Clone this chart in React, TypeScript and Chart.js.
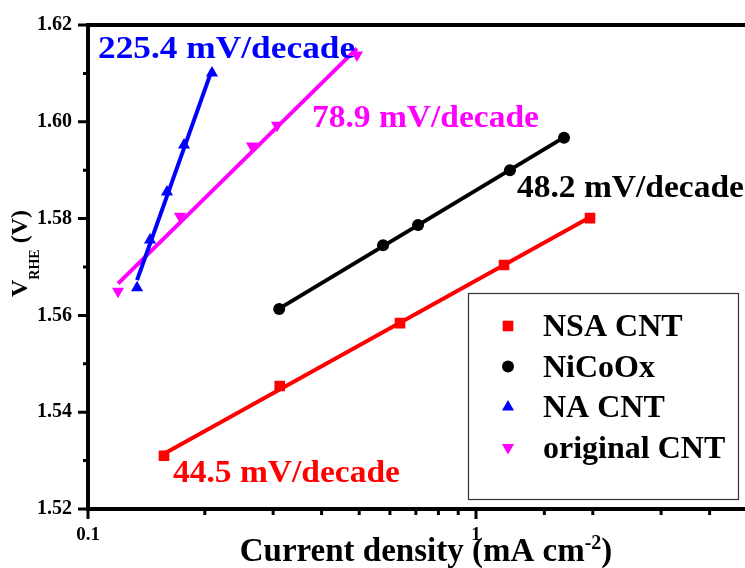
import React, { useEffect, useRef } from 'react';
import { Chart, registerables } from 'chart.js';

Chart.register(...registerables);

const FONT = '"Liberation Serif", "Times New Roman", serif';

// Series (current density in mA cm^-2, potential in V vs RHE)
const nsaX = [0.157, 0.312, 0.637, 1.181, 1.967];
const nsaY = [1.531, 1.5454, 1.5584, 1.5704, 1.5801];
const nicoX = [0.311, 0.576, 0.709, 1.223, 1.686];
const nicoY = [1.5613, 1.5745, 1.5787, 1.59, 1.5967];
const naX = [0.1338, 0.1445, 0.1598, 0.1768, 0.2087];
const naY = [1.5657, 1.5756, 1.5855, 1.5952, 1.6101];
const origX = [0.1195, 0.1726, 0.2647, 0.307, 0.4935];
const origY = [1.565, 1.5805, 1.595, 1.5993, 1.6138];

const seriesNames = ['NSA CNT', 'NiCoOx', 'NA CNT', 'original CNT'];
const seriesColors = ['#FF0000', '#000000', '#0000FF', '#FF00FF'];
const seriesStyles = ['rect', 'circle', 'triangle', 'triangle'];
const seriesRotation = [0, 0, 0, 180];
const seriesRadius = [7.5, 6, 7, 7];

// Tafel slopes, mV/decade
const tafelSlopes = [44.5, 48.2, 225.4, 78.9];
// where each slope label sits (data coordinates of the text's left baseline)
const slopeLabelX = [0.1656, 1.2755, 0.1061, 0.3778];
const slopeLabelY = [1.5256, 1.5845, 1.6132, 1.5989];
const slopeLabelStretch = [1.08, 1.08, 1.14, 1.08];

const xTickLabels = ['0.1', '1'];
const yMin = 1.52;
const yMax = 1.62;
const xMin = 0.1;
const DECADE_PX = 388;

const CANVAS_W = 778;
const CANVAS_H = 568;
const PLOT_TOP = 25;
const PLOT_LEFT = 88;
const PLOT_BOTTOM = 509;

const allX = [nsaX, nicoX, naX, origX];
const allY = [nsaY, nicoY, naY, origY];

// straight Tafel line with the given slope through the centroid of a series
function tafelLine(xs: number[], ys: number[], slopeMv: number) {
  const lx = xs.map((v) => Math.log10(v));
  const mx = lx.reduce((a, b) => a + b, 0) / lx.length;
  const my = ys.reduce((a, b) => a + b, 0) / ys.length;
  const s = slopeMv / 1000;
  const x0 = xs[0];
  const x1 = xs[xs.length - 1];
  return [
    { x: x0, y: my + s * (Math.log10(x0) - mx) },
    { x: x1, y: my + s * (Math.log10(x1) - mx) },
  ];
}

function drawMarker(ctx: CanvasRenderingContext2D, style: string, rot: number, r: number, x: number, y: number, color: string) {
  ctx.save();
  ctx.fillStyle = color;
  ctx.beginPath();
  if (style === 'rect') {
    const s = r * Math.SQRT1_2;
    ctx.rect(x - s, y - s, 2 * s, 2 * s);
  } else if (style === 'circle') {
    ctx.arc(x, y, r, 0, Math.PI * 2);
  } else {
    let a = (rot * Math.PI) / 180;
    for (let k = 0; k < 3; k++) {
      const px = x + Math.sin(a) * r;
      const py = y - Math.cos(a) * r;
      if (k === 0) ctx.moveTo(px, py);
      else ctx.lineTo(px, py);
      a += (2 * Math.PI) / 3;
    }
    ctx.closePath();
  }
  ctx.fill();
  ctx.restore();
}

const decorations = {
  id: 'decorations',
  afterDraw(chart: any) {
    const ctx: CanvasRenderingContext2D = chart.ctx;
    const xs = chart.scales.x;
    const ys = chart.scales.y;
    const area = chart.chartArea;
    ctx.save();
    ctx.strokeStyle = '#000';
    ctx.lineCap = 'butt';

    // frame: left, bottom and top lines
    ctx.lineWidth = 4;
    ctx.beginPath();
    ctx.moveTo(area.left, area.top - 2);
    ctx.lineTo(area.left, area.bottom);
    ctx.moveTo(area.left - 2, area.bottom);
    ctx.lineTo(area.right + 2, area.bottom);
    ctx.moveTo(area.left - 2, area.top);
    ctx.lineTo(area.right + 2, area.top);
    ctx.stroke();

    // tick marks
    ctx.lineWidth = 3;
    ctx.beginPath();
    xs.ticks.forEach((t: any) => {
      const l = Math.log10(t.value);
      const major = Math.abs(l - Math.round(l)) < 1e-6;
      const px = xs.getPixelForValue(t.value);
      ctx.moveTo(px, area.bottom);
      ctx.lineTo(px, area.bottom + (major ? 10 : 6));
    });
    ys.ticks.forEach((t: any, i: number) => {
      const py = ys.getPixelForValue(t.value);
      ctx.moveTo(area.left, py);
      ctx.lineTo(area.left - (i % 2 === 0 ? 10 : 5), py);
    });
    ctx.stroke();

    // x-axis title with superscript
    ctx.fillStyle = '#000';
    ctx.textBaseline = 'alphabetic';
    ctx.textAlign = 'left';
    const big = `bold 33px ${FONT}`;
    const small = `bold 20px ${FONT}`;
    const p1 = 'Current density (mA cm';
    const p2 = '-2';
    const p3 = ')';
    ctx.font = big;
    const w1 = ctx.measureText(p1).width;
    const w3 = ctx.measureText(p3).width;
    ctx.font = small;
    const w2 = ctx.measureText(p2).width;
    let tx = 426 - (w1 + w2 + w3) / 2;
    const tb = 561;
    ctx.font = big;
    ctx.fillText(p1, tx, tb);
    tx += w1;
    ctx.font = small;
    ctx.fillText(p2, tx, tb - 12);
    tx += w2;
    ctx.font = big;
    ctx.fillText(p3, tx, tb);

    // y-axis title with subscript
    ctx.save();
    ctx.translate(27, 297);
    ctx.rotate(-Math.PI / 2);
    const yBig = `bold 24px ${FONT}`;
    const ySmall = `bold 14px ${FONT}`;
    ctx.font = yBig;
    ctx.fillText('V', 0, 0);
    let ox = ctx.measureText('V').width;
    ctx.font = ySmall;
    ctx.fillText('RHE', ox, 12);
    ox += ctx.measureText('RHE').width;
    ctx.font = yBig;
    ctx.fillText(' (V)', ox, 0);
    ctx.restore();

    // slope labels
    ctx.font = `bold 31px ${FONT}`;
    tafelSlopes.forEach((s, i) => {
      ctx.save();
      ctx.fillStyle = seriesColors[i];
      ctx.translate(xs.getPixelForValue(slopeLabelX[i]), ys.getPixelForValue(slopeLabelY[i]));
      ctx.scale(slopeLabelStretch[i], 1);
      ctx.fillText(`${s.toFixed(1)} mV/decade`, 0, 0);
      ctx.restore();
    });

    // legend box
    const bx = 468, by = 293, bw = 270, bh = 206;
    ctx.fillStyle = '#fff';
    ctx.fillRect(bx, by, bw, bh);
    ctx.lineWidth = 1.2;
    ctx.strokeStyle = '#333';
    ctx.strokeRect(bx + 0.5, by + 0.5, bw, bh);
    ctx.font = `bold 32px ${FONT}`;
    seriesNames.forEach((name, i) => {
      const cy = 326 + 40.5 * i;
      drawMarker(ctx, seriesStyles[i], seriesRotation[i], seriesRadius[i], 508, cy, seriesColors[i]);
      ctx.fillStyle = '#000';
      ctx.fillText(name, 543, cy + 10);
    });
    ctx.restore();
  },
};

export default function App() {
  const ref = useRef<HTMLCanvasElement>(null);

  useEffect(() => {
    if (!ref.current) return;
    const lineSets = allX.map((xs, i) => ({
      type: 'line' as const,
      label: seriesNames[i] + ' fit',
      data: tafelLine(xs, allY[i], tafelSlopes[i]),
      borderColor: seriesColors[i],
      borderWidth: 4,
      pointRadius: 0,
      fill: false,
      order: 2,
    }));
    const pointSets = allX.map((xs, i) => ({
      type: 'scatter' as const,
      label: seriesNames[i],
      data: xs.map((x, k) => ({ x, y: allY[i][k] })),
      backgroundColor: seriesColors[i],
      borderColor: seriesColors[i],
      borderWidth: 0,
      pointStyle: seriesStyles[i],
      rotation: seriesRotation[i],
      pointRadius: seriesRadius[i],
      showLine: false,
      order: 1,
    }));

    const chart = new Chart(ref.current, {
      type: 'scatter',
      data: { datasets: [...lineSets, ...pointSets] as any },
      plugins: [decorations],
      options: {
        responsive: false,
        animation: false,
        layout: { padding: { top: PLOT_TOP, left: 0, right: 0, bottom: 0 } },
        plugins: { legend: { display: false }, tooltip: { enabled: false } },
        scales: {
          x: {
            type: 'logarithmic',
            min: xMin,
            max: 6,
            grid: { display: false, drawTicks: false },
            border: { display: false },
            afterFit: (s: any) => {
              s.height = CANVAS_H - PLOT_BOTTOM;
              s.paddingLeft = 0;
              s.paddingRight = 0;
            },
            ticks: {
              autoSkip: false,
              maxRotation: 0,
              padding: 15,
              color: '#000',
              font: { family: FONT, size: 19, weight: 'bold' },
              callback: (v: any) => {
                const s = String(Number(v));
                return xTickLabels.includes(s) ? s : '';
              },
            },
          },
          y: {
            min: yMin,
            max: yMax,
            grid: { display: false, drawTicks: false },
            border: { display: false },
            afterFit: (s: any) => {
              s.width = PLOT_LEFT;
              s.paddingTop = 0;
              s.paddingBottom = 0;
            },
            ticks: {
              stepSize: 0.01,
              autoSkip: false,
              padding: 16,
              color: '#000',
              font: { family: FONT, size: 20, weight: 'bold' },
              callback: (v: any, i: number) => (i % 2 === 0 ? Number(v).toFixed(2) : ''),
            },
          },
        },
      } as any,
    });

    // keep one decade of current density at a fixed pixel width
    const area = chart.chartArea;
    const span = (area.right - area.left) / DECADE_PX;
    (chart.options.scales as any).x.max = xMin * Math.pow(10, span);
    chart.update();

    return () => chart.destroy();
  }, []);

  return (
    <div style={{ position: 'fixed', left: 0, top: 0, width: 745, height: 568, overflow: 'hidden', background: '#fff' }}>
      <canvas ref={ref} width={CANVAS_W} height={CANVAS_H} style={{ display: 'block', width: CANVAS_W, height: CANVAS_H }} />
    </div>
  );
}
